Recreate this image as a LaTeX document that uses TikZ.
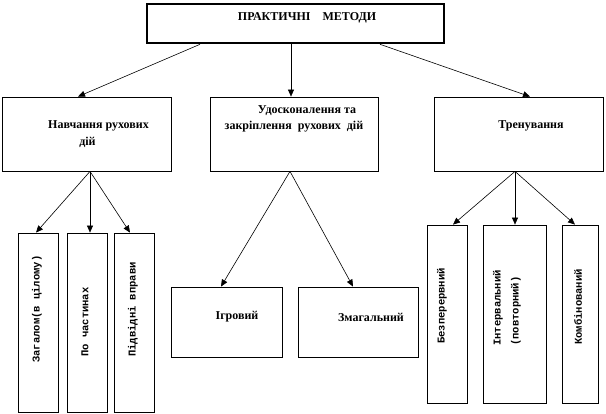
\documentclass[tikz,border=0pt]{standalone}
\usepackage{fontspec}
\setmainfont{Liberation Serif}
\newfontfamily\monof{Liberation Mono}
\usetikzlibrary{arrows.meta}
\begin{document}
\begin{tikzpicture}[x=1pt,y=-1pt,
  box/.style={draw, line width=0.8pt, inner sep=0pt, anchor=center},
  topbox/.style={draw, line width=2.6pt, inner sep=0pt, anchor=center},
  lbl/.style={font=\bfseries\fontsize{12}{14}\selectfont, inner sep=0pt},
  vlbl/.style={font=\monof\bfseries\fontsize{10.5}{18}\selectfont, rotate=90, anchor=west, inner sep=0pt, align=left},
  arr/.style={line width=0.6pt, -{Triangle[length=7pt,width=6pt]}}]
\useasboundingbox (0,0) rectangle (606,414);
% boxes
\node[topbox, minimum width=297pt, minimum height=39pt] (top) at (295.5,23.5) {};
\node[box, minimum width=169pt, minimum height=74pt] (b1) at (86.5,134) {};
\node[box, minimum width=168pt, minimum height=74pt] (b2) at (294,134) {};
\node[box, minimum width=169pt, minimum height=74pt] (b3) at (518.5,134) {};
\node[box, minimum width=40pt, minimum height=179pt] (c1) at (38,322.5) {};
\node[box, minimum width=40pt, minimum height=179pt] (c2) at (87,322.5) {};
\node[box, minimum width=40pt, minimum height=179pt] (c3) at (134,322.5) {};
\node[box, minimum width=111pt, minimum height=70pt] (m1) at (226.5,322) {};
\node[box, minimum width=120pt, minimum height=70pt] (m2) at (358,322) {};
\node[box, minimum width=40pt, minimum height=178pt] (r1) at (447,314) {};
\node[box, minimum width=63pt, minimum height=178pt] (r2) at (514.5,314) {};
\node[box, minimum width=36pt, minimum height=178pt] (r3) at (580,314) {};
% labels
\node[lbl] (ttop) at (307,18) {ПРАКТИЧНІ\hspace{12pt}МЕТОДИ};
\node[lbl] (tb1a) at (98.5,126) {Навчання рухових};
\node[lbl] (tb1b) at (87.5,142) {дій};
\node[lbl] (tb2a) at (307,111) {Удосконалення та};
\node[lbl] (tb2b) at (294,127) {закріплення\hspace{6pt}рухових\hspace{6pt}дій};
\node[lbl] (tb3) at (531,126) {Тренування};
\node[lbl] (tm1) at (237,317) {Ігровий};
\node[lbl] (tm2) at (371,317) {Змагальний};
\node[vlbl] (tc1) at (37,363) {Загалом(в цілому)};
\node[vlbl] (tc2) at (85,357) {По частинах};
\node[vlbl] (tc3) at (133,357) {Підвідні вправи};
\node[vlbl] (tr1) at (442,344) {Безперервний};
\node[vlbl] (tr2) at (507,346) {Інтервальний\\(повторний)};
\node[vlbl] (tr3) at (578,345) {Комбінований};
% connectors
\draw[arr] ([xshift=-95.5pt]top.south) -- ([xshift=-8.5pt]b1.north);
\draw[arr] ([xshift=-4.5pt]top.south) -- ([xshift=-4.5pt]top.south |- b2.north);
\draw[arr] ([xshift=84.5pt]top.south) -- ([xshift=11.5pt]b3.north);
\draw[arr] ([xshift=3.5pt]b1.south) -- ([xshift=-2pt]c1.north);
\draw[arr] ([xshift=3.5pt]b1.south) -- ([xshift=3pt]c2.north);
\draw[arr] ([xshift=3.5pt]b1.south) -- ([xshift=-4pt]c3.north);
\draw[arr] ([xshift=-4pt]b2.south) -- ([xshift=-5.5pt]m1.north);
\draw[arr] ([xshift=-4pt]b2.south) -- ([xshift=-5pt]m2.north);
\draw[arr] ([xshift=-3.5pt]b3.south) -- ([xshift=6pt]r1.north);
\draw[arr] ([xshift=-3.5pt]b3.south) -- ([xshift=-3.5pt]b3.south |- r2.north);
\draw[arr] ([xshift=-3.5pt]b3.south) -- ([xshift=-5pt]r3.north);
\end{tikzpicture}
\end{document}
